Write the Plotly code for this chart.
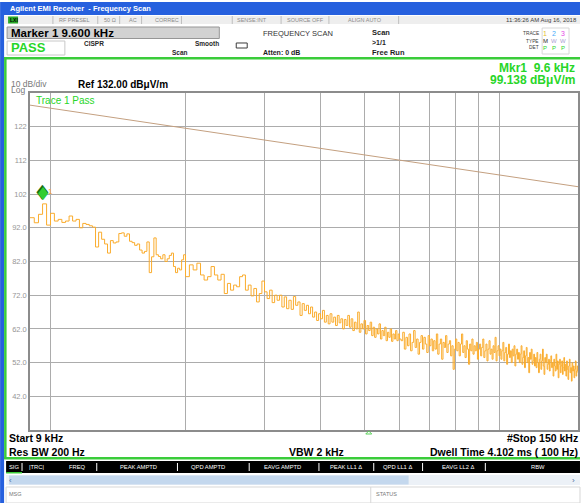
import numpy as np
import plotly.graph_objects as go

# ---------------- data ----------------
start_khz = 9.0
stop_khz = 150.0
ref_level = 132.0
bottom_level = 32.0

# scan segments (start kHz, step kHz) and measured levels in dBuV/m
seg1_start, seg1_step = 9.0, 0.2
seg1_levels = [95.0, 93.5, 96.0, 99.1, 92.8, 96.3, 94.0, 94.5, 93.6, 94.0,
               95.5, 94.0, 94.5, 92.0, 93.3, 93.0, 92.6, 92.2, 86.3, 90.7,
               88.6, 87.2, 84.5, 88.2, 87.5, 87.8, 90.3, 90.5, 89.5, 90.2,
               88.0, 87.6, 86.8, 87.2, 85.4, 84.5, 85.0, 87.8, 78.7, 83.4,
               89.0, 84.0, 83.5, 82.8, 84.0, 82.0, 82.8, 83.8, 84.5, 80.5,
               78.7, 80.0, 79.5, 82.5, 84.0, 77.5]
seg2_start, seg2_step = 20.4, 0.4
seg2_levels = [81.0, 79.5, 81.5, 78.0, 76.5, 77.5, 80.5, 78.0, 76.5, 78.2,
               72.5, 75.5, 73.5, 75.0, 74.5, 77.5, 78.0, 73.5, 75.0, 71.8,
               74.0, 70.0, 72.5, 76.2, 73.0, 71.0, 73.5, 69.8, 72.0, 70.5,
               72.0, 68.5, 71.5, 68.0, 70.5, 67.8, 71.6, 69.0, 70.0, 66.0,
               69.5, 67.5, 69.0, 66.5, 68.5, 65.5, 67.0, 64.5, 66.5, 65.0,
               67.5, 64.0, 66.0, 63.5, 66.5, 64.0, 65.5, 63.0, 66.0, 63.8,
               65.0, 62.0, 64.8, 63.0, 66.0, 62.5, 65.0, 61.5, 64.0, 62.0,
               67.0, 61.0, 63.5, 62.0, 64.5, 60.5, 63.0, 61.5, 64.0, 60.0,
               62.5, 59.5, 62.0, 60.5, 63.5, 59.0, 61.5, 60.0, 62.5, 58.5,
               61.0, 59.5, 62.0, 58.3, 60.5, 59.0, 61.5, 58.5, 60.5, 59.0]
seg3_start, seg3_step = 60.5, 0.5
seg3_levels = [58.5, 61.0, 56.0, 59.5, 57.0, 60.5, 55.5, 58.0, 61.5, 56.5,
               59.0, 54.5, 58.0, 60.0, 56.0, 59.5, 57.5, 55.0, 60.0, 57.0,
               59.0, 55.5, 58.5, 56.0, 60.5, 54.5, 57.5, 59.0, 53.0, 58.0,
               56.5, 60.0, 55.0, 57.5, 58.5, 54.0, 57.0, 50.0, 56.0, 59.0,
               55.5, 58.0, 54.0, 57.5, 60.5, 55.0, 57.0, 53.5, 58.5, 56.0,
               51.5, 57.5, 55.5, 59.0, 54.5, 57.0, 55.5, 58.0, 53.0, 56.0,
               57.5, 54.0, 56.5, 59.0, 53.5, 55.5, 57.5, 52.5, 56.0, 58.5,
               54.5, 56.0, 53.0, 57.0, 55.0, 59.5, 52.5, 55.5, 57.0, 54.0,
               56.0, 53.0, 55.5, 58.0, 52.5, 55.0, 56.5, 51.5, 54.5, 57.5,
               53.5, 55.5, 52.0, 56.0, 54.0, 57.0, 51.0, 54.5, 56.0, 53.0,
               55.0, 52.0, 54.5, 57.0, 51.5, 53.5, 55.5, 50.5, 54.0, 56.5,
               52.0, 53.5, 49.0, 55.0, 53.0, 56.0, 51.5, 52.5, 54.5, 51.0,
               53.5, 50.5, 55.0, 52.0, 49.0, 53.0, 54.5, 50.0, 52.5, 56.0,
               51.0, 48.5, 53.5, 52.0, 54.5, 50.0, 51.5, 53.0, 49.5, 52.5,
               54.0, 50.5, 52.0, 48.0, 53.0, 51.0, 49.5, 54.5, 50.0, 52.5,
               47.5, 51.5, 53.0, 49.0, 51.0, 52.5, 48.5, 50.5, 53.5, 49.5,
               51.5, 48.0, 52.5, 50.0, 47.0, 51.0, 53.0, 49.0, 50.5, 46.5,
               52.0, 49.5, 51.0, 47.5, 50.0, 52.5, 48.0, 49.5, 51.0, 49.0]

limit_freq_khz = [9.0, 150.0]
limit_level = [128.4, 104.2]

marker_freq_khz = 9.6
marker_level = 99.138

y_tick_vals = [122, 112, 102, 92, 82, 72, 62, 52, 42]
y_tick_text = ["122", "112", "102", "92.0", "82.0", "72.0", "62.0", "52.0", "42.0"]
x_grid_khz = [10, 20, 30, 40, 50, 60, 70, 80, 90, 100]

# ---------------- geometry ----------------
W, H = 582, 503
PL, PR, PT, PB = 30, 580, 93, 430
FONT = "Liberation Sans"


def fx(x):
    return (x - PL) / (PR - PL)


def fy(y):
    return (PB - y) / (PB - PT)


freqs = np.concatenate([
    seg1_start + seg1_step * np.arange(len(seg1_levels)),
    seg2_start + seg2_step * np.arange(len(seg2_levels)),
    seg3_start + seg3_step * np.arange(len(seg3_levels)),
])
levels = np.array(seg1_levels + seg2_levels + seg3_levels)

fig = go.Figure()
fig.add_trace(go.Scatter(x=limit_freq_khz, y=limit_level, mode="lines",
                         line=dict(color="rgb(196,160,128)", width=1),
                         hoverinfo="skip", showlegend=False))
fig.add_trace(go.Scatter(x=freqs, y=levels, mode="lines", line_shape="hv",
                         line=dict(color="rgb(250,172,45)", width=1),
                         showlegend=False))

annotations = []
shapes = []


def txt(x, y, s, size=8, color="black", bold=False, anchor="left", family=FONT):
    if bold:
        s = "<b>" + s + "</b>"
    annotations.append(dict(xref="paper", yref="paper", x=fx(x), y=fy(y), text=s,
                            showarrow=False, xanchor=anchor, yanchor="middle",
                            font=dict(size=size, color=color, family=family),
                            borderpad=0))


def rect(x0, y0, x1, y1, fill=None, line=None, lw=1):
    shapes.append(dict(type="rect", xref="paper", yref="paper",
                       x0=fx(x0), x1=fx(x1), y0=fy(y0), y1=fy(y1),
                       fillcolor=fill if fill else "rgba(0,0,0,0)",
                       line=dict(color=line if line else "rgba(0,0,0,0)", width=lw if line else 0),
                       layer="above"))


def vline(x, y0, y1, color, lw=1):
    shapes.append(dict(type="line", xref="paper", yref="paper",
                       x0=fx(x), x1=fx(x), y0=fy(y0), y1=fy(y1),
                       line=dict(color=color, width=lw), layer="above"))


BLUE = "rgb(38,96,222)"
GREEN = "rgb(58,204,58)"
TXTGREEN = "rgb(40,214,40)"

# title bar & left stripe
rect(0, 2, 582, 15, fill=BLUE)
rect(0, 15, 4, 503, fill=BLUE)
txt(9, 8.5, "Agilent EMI Receiver  - Frequency Scan", size=7.5, color="white", bold=True)

# status row
rect(4, 16, 582, 24, fill="rgb(238,238,238)")
rect(8, 16.5, 18, 23.5, fill="rgb(40,170,40)")
txt(9, 20, "LXI", size=5, color="black", bold=True)
for sx in [53, 98, 120, 142, 182, 233, 282, 330, 400]:
    vline(sx, 16, 24, "rgb(190,190,190)")
for sx, s in [(58, "RF PRESEL"), (103, "50 Ω"), (128, "AC"), (154, "CORREC"),
              (237, "SENSE:INT"), (287, "SOURCE OFF"), (348, "ALIGN AUTO")]:
    txt(sx, 20, s, size=5.5, color="rgb(140,140,140)")
txt(580, 20, "11:36:26 AM Aug 16, 2018", size=6, color="rgb(60,60,60)", anchor="right")

# header
rect(7, 27, 220, 38.5, fill="rgb(210,210,210)", line="rgb(150,150,150)")
txt(10, 33, "Marker 1 9.600 kHz", size=11.5, bold=True)
rect(7, 41, 65, 55, fill="white", line="rgb(200,200,200)")
txt(10, 48, "PASS", size=13, color=TXTGREEN, bold=True)
txt(83, 43.5, "CISPR", size=6.5, bold=True, color="rgb(40,40,40)")
txt(195, 43.5, "Smooth", size=6.5, bold=True, color="rgb(40,40,40)")
txt(172, 53, "Scan", size=6.5, bold=True, color="rgb(40,40,40)")
shapes.append(dict(type="path", xref="paper", yref="paper",
                   path="M %f,%f L %f,%f L %f,%f L %f,%f Z" % (fx(237), fy(43), fx(248), fy(43), fx(248), fy(48), fx(237), fy(48)),
                   line=dict(color="rgb(60,60,60)", width=1), layer="above"))
txt(263, 33, "FREQUENCY SCAN", size=7.5, color="rgb(50,50,50)")
txt(263, 52.5, "Atten: 0 dB", size=7, bold=True, color="rgb(30,30,30)")
txt(372, 32, "Scan", size=7.5, bold=True, color="rgb(30,30,30)")
txt(372, 43, ">1/1", size=7, bold=True, color="rgb(30,30,30)")
txt(372, 52.5, "Free Run", size=7.5, bold=True, color="rgb(30,30,30)")
rect(544, 28, 571, 54, line="rgb(215,215,215)")
for yy, s in [(33, "TRACE"), (41, "TYPE"), (48, "DET")]:
    txt(542, yy, s, size=4.8, color="rgb(60,60,60)", anchor="right")
for xx, s, c in [(547, "1", "rgb(230,190,40)"), (556, "2", "rgb(70,170,250)"), (565, "3", "rgb(230,70,230)")]:
    txt(xx, 33, s, size=7, color=c, anchor="center")
for xx, s, c in [(547, "M", "rgb(40,40,40)"), (556, "W", "rgb(170,160,210)"), (565, "W", "rgb(170,160,210)")]:
    txt(xx, 41, s, size=6, color=c, anchor="center")
for xx in [547, 556, 565]:
    txt(xx, 48, "P", size=6, color=TXTGREEN, anchor="center")

# green frame of the measurement panel
rect(4, 57, 582, 59.5, fill=GREEN)
rect(4, 57, 6.5, 459, fill=GREEN)
rect(4, 457, 582, 459.5, fill=GREEN)

# chart text
txt(10, 84, "10 dB/div", size=8.5, color="rgb(120,120,120)")
txt(10, 90.5, "Log", size=8.5, color="rgb(120,120,120)")
txt(77, 84, "Ref 132.00 dBμV/m", size=10, bold=True)
txt(578, 68, "Mkr1  9.6 kHz", size=12, bold=True, color=TXTGREEN, anchor="right")
txt(578, 80, "99.138 dBμV/m", size=12, bold=True, color=TXTGREEN, anchor="right")
txt(35, 100, "Trace 1 Pass", size=10, color=TXTGREEN)

# marker diamond and label
annotations.append(dict(xref="x", yref="y", x=np.log10(marker_freq_khz), y=marker_level,
                        text="♦", showarrow=False, xanchor="center", yanchor="bottom",
                        yshift=-3, font=dict(size=21, color="rgb(20,110,20)", family="DejaVu Sans")))
annotations.append(dict(xref="x", yref="y", x=np.log10(marker_freq_khz), y=marker_level,
                        text="♦", showarrow=False, xanchor="center", yanchor="bottom",
                        yshift=-2, font=dict(size=18, color="rgb(50,205,50)", family="DejaVu Sans")))
annotations.append(dict(xref="x", yref="y", x=np.log10(marker_freq_khz), y=marker_level,
                        text="1", showarrow=False, xanchor="left", yanchor="bottom",
                        xshift=3, yshift=6, font=dict(size=8, color="rgb(240,160,40)", family=FONT)))

# tiny green marker on bottom axis
shapes.append(dict(type="path", xref="paper", yref="paper",
                   path="M %f,%f L %f,%f L %f,%f Z" % (fx(367), fy(434), fx(370), fy(431), fx(373), fy(434)),
                   line=dict(color="rgb(90,210,90)", width=1), layer="above"))

# bottom annotations
txt(8, 438, "Start 9 kHz", size=10.5, bold=True)
txt(581, 438, "#Stop 150 kHz", size=10.5, bold=True, anchor="right")
txt(8, 452, "Res BW 200 Hz", size=10.5, bold=True)
txt(289, 452, "VBW 2 kHz", size=10.5, bold=True)
txt(581, 452, "Dwell Time 4.102 ms ( 100 Hz)", size=10.5, bold=True, anchor="right")

# results table header bar
rect(6, 461, 582, 473, fill="black")
rect(6, 472, 22, 473.5, fill=GREEN)
for sx, s in [(8, "SIG"), (28, "|TRC|"), (68, "FREQ"), (119, "PEAK AMPTD"), (191, "QPD AMPTD"),
              (264, "EAVG AMPTD"), (330, "PEAK LL1 Δ"), (383, "QPD LL1 Δ"), (442, "EAVG LL2 Δ"),
              (532, "RBW")]:
    txt(sx, 467, s, size=5.8, color="white")
for sx in [22, 97, 178, 250, 320, 375, 424, 487]:
    vline(sx, 463, 471, "white")

# scroll bar
rect(6, 475, 582, 485, fill="rgb(236,241,247)")
rect(9, 475.5, 410, 484.5, fill="rgb(196,216,238)")
txt(8, 480, "‹", size=8, color="rgb(80,110,160)")
txt(578, 480, "›", size=8, color="rgb(80,110,160)", anchor="right")

# message row
rect(6, 487, 582, 503, fill="white", line="rgb(215,215,215)")
vline(372, 487, 503, "rgb(215,215,215)")
txt(8, 494, "MSG", size=5.5, color="rgb(120,120,120)")
txt(376, 494, "STATUS", size=5.5, color="rgb(120,120,120)")

fig.update_layout(
    width=W, height=H,
    margin=dict(l=PL, r=W - PR, t=PT, b=H - PB, pad=0),
    paper_bgcolor="white", plot_bgcolor="white",
    font=dict(family=FONT),
    annotations=annotations, shapes=shapes,
    xaxis=dict(type="log", range=[np.log10(start_khz), np.log10(stop_khz)],
               tickvals=x_grid_khz, showticklabels=False, ticks="",
               showgrid=True, gridcolor="rgb(172,172,172)", gridwidth=1,
               showline=True, linecolor="rgb(140,140,140)", linewidth=1.5, mirror=True,
               zeroline=False, fixedrange=True),
    yaxis=dict(range=[bottom_level, ref_level], tickvals=y_tick_vals, ticktext=y_tick_text,
               ticks="", tickfont=dict(size=7.5, color="rgb(150,150,150)", family=FONT),
               showgrid=True, gridcolor="rgb(172,172,172)", gridwidth=1,
               showline=True, linecolor="rgb(140,140,140)", linewidth=1.5, mirror=True,
               zeroline=False, fixedrange=True),
    showlegend=False,
)

fig.write_html("out.html", config={"displayModeBar": False},
               post_script="document.body.style.margin='0';document.body.style.overflow='hidden';")
